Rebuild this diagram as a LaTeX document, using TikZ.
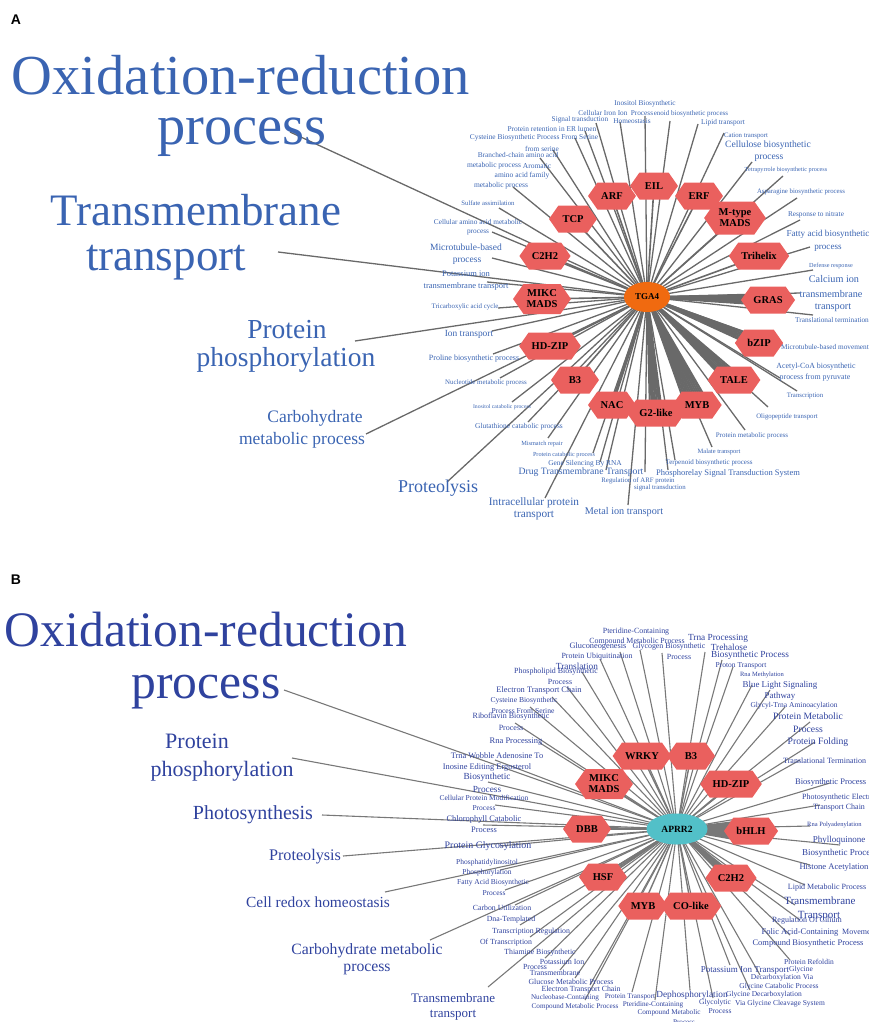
\documentclass[tikz,border=0pt]{standalone}
\usepackage{fontspec}
\setmainfont{Liberation Serif}
\newfontfamily\lsans{Liberation Sans}
\usetikzlibrary{shapes.symbols,shapes.geometric,calc}
\pgfdeclarelayer{bg}
\pgfsetlayers{bg,main}
\definecolor{blueA}{RGB}{58,100,178}
\definecolor{blueB}{RGB}{47,66,158}
\definecolor{edgec}{RGB}{105,105,105}
\definecolor{edgeb}{RGB}{120,120,120}
\definecolor{hexc}{RGB}{234,96,94}
\definecolor{orangeC}{RGB}{240,106,16}
\definecolor{cyanC}{RGB}{82,192,200}
\newcommand\TX[5][]{\node[lbl,#1] (#2) at (#3) {\fontsize{#4}{#4}\selectfont #5};}
\tikzset{
  lbl/.style={inner sep=0pt, text=blueA},
  edgeA/.style={draw=edgec, line width=1.3pt},
  edgeB/.style={draw=edgeb, line width=1.1pt},
  hexn/.style={signal, signal to=east and west, signal pointer angle=110, fill=hexc, draw=none,
    font=\bfseries\fontsize{10.5}{11}\selectfont, text=black, inner xsep=3pt, inner ysep=2pt,
    minimum height=27pt, minimum width=48pt, align=center},
  panel/.style={font=\lsans\bfseries\fontsize{14}{14}\selectfont, inner sep=0pt}
}
\begin{document}
\begin{tikzpicture}[x=1pt,y=-1pt]
\useasboundingbox (0,0) rectangle (869,1022);
\node[panel] (pA) at (16,20) {A};
\node[panel] (pB) at (16,580) {B};
% ================= PANEL A =================
\coordinate (A0) at (647,297);
% endpoints
\coordinate (ea1) at (290,132); \coordinate (ea2) at (278,252); \coordinate (ea3) at (355,341);
\coordinate (ea4) at (366,434); \coordinate (ea5) at (447,482); \coordinate (ea6) at (645,116);
\coordinate (ea7) at (620,122); \coordinate (ea8) at (670,121); \coordinate (ea9) at (698,124);
\coordinate (ea10) at (724,133); \coordinate (ea11) at (752,162); \coordinate (ea12) at (783,176);
\coordinate (ea13) at (797,198); \coordinate (ea14) at (800,220); \coordinate (ea15) at (810,247);
\coordinate (ea16) at (813,270); \coordinate (ea17) at (800,293); \coordinate (ea18) at (813,315);
\coordinate (ea19) at (782,345); \coordinate (ea20) at (780,378); \coordinate (ea21) at (797,391);
\coordinate (ea22) at (768,407); \coordinate (ea23) at (745,430); \coordinate (ea24) at (712,447);
\coordinate (ea25) at (675,460); \coordinate (ea26) at (668,470); \coordinate (ea27) at (645,472);
\coordinate (ea28) at (628,505); \coordinate (ea29) at (606,470); \coordinate (ea30) at (600,462);
\coordinate (ea31) at (593,453); \coordinate (ea32) at (548,438); \coordinate (ea33) at (545,498);
\coordinate (ea34) at (528,422); \coordinate (ea35) at (512,402); \coordinate (ea36) at (500,378);
\coordinate (ea37) at (493,354); \coordinate (ea38) at (492,331); \coordinate (ea39) at (498,308);
\coordinate (ea40) at (487,282); \coordinate (ea41) at (492,258); \coordinate (ea42) at (492,232);
\coordinate (ea43) at (499,208); \coordinate (ea44) at (513,187); \coordinate (ea45) at (540,158);
\coordinate (ea46) at (553,150); \coordinate (ea47) at (575,138); \coordinate (ea48) at (585,131);
\coordinate (ea49) at (596,123);
% big labels
\TX{ta1a}{241,75}{56.5}{Oxidation-reduction}
\TX{ta1b}{242,137}{56.5}{process}
\TX{ta2a}{196,210}{45}{Transmembrane}
\TX{ta2b}{166,263}{45}{transport}
\TX{ta3a}{287,330}{27.5}{Protein}
\TX{ta3b}{286,360}{27.5}{phosphorylation}
\TX{ta4a}{315,418}{17.5}{Carbohydrate}
\TX{ta4b}{302,440}{17.5}{metabolic process}
\TX{ta5}{438,488}{18}{Proteolysis}
% small labels
\TX{ta6a}{645,104}{7.3}{Inositol Biosynthetic}
\TX{ta6b}{642,113}{7.3}{Process}
\TX{ta7a}{603,113}{7.3}{Cellular Iron Ion}
\TX{ta7b}{632,121}{7.3}{Homeostasis}
\TX{ta8}{691,114}{7}{enoid biosynthetic process}
\TX{ta9}{723,123}{7.3}{Lipid transport}
\TX{ta10}{746,136}{6.8}{Cation transport}
\TX{ta11a}{768,145}{9.6}{Cellulose biosynthetic}
\TX{ta11b}{769,158}{9.6}{process}
\TX{ta12}{786,170}{6.2}{Tetrapyrrole biosynthetic process}
\TX{ta13}{801,192}{6.8}{Asparagine biosynthetic process}
\TX{ta14}{816,215}{7.3}{Response to nitrate}
\TX{ta15a}{828,234}{9.1}{Fatty acid biosynthetic}
\TX{ta15b}{828,248}{9.1}{process}
\TX{ta16}{831,266}{6.2}{Defense response}
\TX{ta17a}{834,279}{10.2}{Calcium ion}
\TX{ta17b}{831,294}{10.2}{transmembrane}
\TX{ta17c}{833,308}{10.2}{transport}
\TX{ta18}{832,320}{7.3}{Translational termination}
\TX{ta19}{825,347}{7.3}{Microtubule-based movement}
\TX{ta20a}{816,367}{7.9}{Acetyl-CoA biosynthetic}
\TX{ta20b}{815,378}{7.9}{process from pyruvate}
\TX{ta21}{805,396}{6.8}{Transcription}
\TX{ta22}{787,417}{6.8}{Oligopeptide transport}
\TX{ta23}{752,436}{7}{Protein metabolic process}
\TX{ta24}{719,452}{6.5}{Malate transport}
\TX{ta25}{709,463}{7}{Terpenoid biosynthetic process}
\TX{ta26}{728,473}{8.5}{Phosphorelay Signal Transduction System}
\TX{ta27a}{638,481}{6.8}{Regulation of ARF protein}
\TX{ta27b}{660,488}{6.8}{signal transduction}
\TX{ta28}{624,512}{10.2}{Metal ion transport}
\TX{ta29}{581,472}{9.7}{Drug Transmembrane Transport}
\TX{ta30}{585,464}{7.4}{Gene Silencing By RNA}
\TX{ta31}{564,455}{6.2}{Protein catabolic process}
\TX{ta32}{542,444}{6.3}{Mismatch repair}
\TX{ta33a}{534,503}{11.3}{Intracellular protein}
\TX{ta33b}{534,516}{11.3}{transport}
\TX{ta34}{519,427}{7.4}{Glutathione catabolic process}
\TX{ta35}{502,407}{5.7}{Inositol catabolic process}
\TX{ta36}{486,383}{6.9}{Nucleotide metabolic process}
\TX{ta37}{474,359}{8}{Proline biosynthetic process}
\TX{ta38}{469,334}{9.4}{Ion transport}
\TX{ta39}{465,307}{6.9}{Tricarboxylic acid cycle}
\TX{ta40a}{466,274}{8.5}{Potassium ion}
\TX{ta40b}{466,286}{8.5}{transmembrane transport}
\TX{ta41a}{466,247}{9.5}{Microtubule-based}
\TX{ta41b}{467,261}{9.5}{process}
\TX{ta42a}{478,222}{7.3}{Cellular amino acid metabolic}
\TX{ta42b}{478,233}{7.3}{process}
\TX{ta43}{488,203}{6.7}{Sulfate assimilation}
\TX{ta44a}{537,166}{7.5}{Aromatic}
\TX{ta44b}{522,176}{7.5}{amino acid family}
\TX{ta44c}{501,186}{7.5}{metabolic process}
\TX{ta45a}{518,155}{7.3}{Branched-chain amino acid}
\TX{ta45b}{494,166}{7.5}{metabolic process}
\TX{ta46}{542,149}{7.4}{from serine}
\TX{ta47}{534,138}{7.4}{Cysteine Biosynthetic Process From Serine}
\TX{ta48}{552,129}{7.4}{Protein retention in ER lumen}
\TX{ta49}{580,120}{7.3}{Signal transduction}
% hexagons A
\node[hexn] (aARF) at (612,196) {ARF};
\node[hexn] (aEIL) at (654,186) {EIL};
\node[hexn] (aERF) at (699,196) {ERF};
\node[hexn] (aTCP) at (573,219) {TCP};
\node[hexn, minimum height=33pt] (aMT) at (735,218) {M-type\\MADS};
\node[hexn] (aC2H2) at (545,256) {C2H2};
\node[hexn] (aTRI) at (759,256) {Trihelix};
\node[hexn, minimum height=30pt] (aMIKC) at (542,299) {MIKC\\MADS};
\node[hexn] (aGRAS) at (768,300) {GRAS};
\node[hexn] (aHDZIP) at (550,346) {HD-ZIP};
\node[hexn] (abZIP) at (759,343) {bZIP};
\node[hexn] (aB3) at (575,380) {B3};
\node[hexn] (aTALE) at (734,380) {TALE};
\node[hexn] (aNAC) at (612,405) {NAC};
\node[hexn] (aG2) at (656,413) {G2-like};
\node[hexn] (aMYB) at (697,405) {MYB};
\node[ellipse, fill=orangeC, minimum width=46pt, minimum height=30pt, inner sep=0pt,
  font=\bfseries\fontsize{9}{9}\selectfont] (tga) at (A0) {TGA4};
% ================= PANEL B =================
\begin{scope}[lbl/.append style={text=blueB}]
\coordinate (B0) at (677,829);
\coordinate (eb1) at (284,690); \coordinate (eb2) at (292,758); \coordinate (eb3) at (322,815);
\coordinate (eb4) at (343,856); \coordinate (eb5) at (385,892); \coordinate (eb6) at (430,940);
\coordinate (eb7) at (488,987); \coordinate (eb8) at (640,650); \coordinate (eb9) at (620,652);
\coordinate (eb10) at (662,653); \coordinate (eb11) at (705,652); \coordinate (eb12) at (722,660);
\coordinate (eb13) at (600,659); \coordinate (eb14) at (582,672); \coordinate (eb15) at (567,687);
\coordinate (eb16) at (552,697); \coordinate (eb17) at (530,707); \coordinate (eb18) at (515,723);
\coordinate (eb19) at (540,743); \coordinate (eb20) at (495,760); \coordinate (eb21) at (488,782);
\coordinate (eb22) at (495,805); \coordinate (eb23) at (483,825); \coordinate (eb24) at (500,846);
\coordinate (eb25) at (500,870); \coordinate (eb26) at (505,890); \coordinate (eb27) at (515,905);
\coordinate (eb28) at (520,925); \coordinate (eb29) at (530,937); \coordinate (eb30) at (545,958);
\coordinate (eb31) at (560,970); \coordinate (eb32) at (575,978); \coordinate (eb33) at (590,985);
\coordinate (eb34) at (585,1000); \coordinate (eb35) at (632,992); \coordinate (eb36) at (655,1000);
\coordinate (eb37) at (690,990); \coordinate (eb38) at (713,998); \coordinate (eb39) at (730,965);
\coordinate (eb40) at (760,975); \coordinate (eb41) at (750,990); \coordinate (eb42) at (790,960);
\coordinate (eb43) at (790,935); \coordinate (eb44) at (800,920); \coordinate (eb45) at (795,905);
\coordinate (eb46) at (805,885); \coordinate (eb47) at (810,865); \coordinate (eb48) at (840,845);
\coordinate (eb49) at (810,826); \coordinate (eb50) at (820,805); \coordinate (eb51) at (830,783);
\coordinate (eb52) at (800,760); \coordinate (eb53) at (815,742); \coordinate (eb54) at (810,722);
\coordinate (eb55) at (785,707); \coordinate (eb56) at (770,690); \coordinate (eb57) at (752,685);
\coordinate (eb58) at (733,667);
% big labels
\TX{tb1a}{206,630}{49.6}{Oxidation-reduction}
\TX{tb1b}{206,692}{49.6}{process}
\TX{tb2a}{197,741}{22}{Protein}
\TX{tb2b}{222,771}{22}{phosphorylation}
\TX{tb3}{253,815}{20}{Photosynthesis}
\TX{tb4}{305,857}{16.2}{Proteolysis}
\TX{tb5}{318,902}{15.4}{Cell redox homeostasis}
\TX{tb6a}{367,951}{15.7}{Carbohydrate metabolic}
\TX{tb6b}{367,969}{15.7}{process}
\TX{tb7a}{453,998}{13}{Transmembrane}
\TX{tb7b}{453,1015}{13}{transport}
% small labels
\TX{tb8a}{636,632}{7.9}{Pteridine-Containing}
\TX{tb8b}{637,642}{7.9}{Compound Metabolic Process}
\TX{tb9}{598,647}{8.3}{Gluconeogenesis}
\TX{tb10a}{669,647}{7.9}{Glycogen Biosynthetic}
\TX{tb10b}{679,657}{7.9}{Process}
\TX{tb11}{718,638}{9.3}{Trna Processing}
\TX{tb12a}{729,647}{9.3}{Trehalose}
\TX{tb12b}{750,655}{9.3}{Biosynthetic Process}
\TX{tb13}{597,657}{7.9}{Protein Ubiquitination}
\TX{tb14}{577,666}{9.3}{Translation}
\TX{tb15a}{556,672}{7.9}{Phospholipid Biosynthetic}
\TX{tb15b}{560,682}{7.9}{Process}
\TX{tb16}{539,690}{8.4}{Electron Transport Chain}
\TX{tb17a}{524,701}{7.6}{Cysteine Biosynthetic}
\TX{tb17b}{523,711}{7.6}{Process From Serine}
\TX{tb18a}{511,717}{8}{Riboflavin Biosynthetic}
\TX{tb18b}{511,728}{8}{Process}
\TX{tb19}{516,742}{8.5}{Rna Processing}
\TX{tb20}{497,756}{8.4}{Trna Wobble Adenosine To}
\TX{tb21a}{487,767}{8.4}{Inosine Editing Ergosterol}
\TX{tb21b}{487,777}{9.3}{Biosynthetic}
\TX{tb21c}{487,789}{9.3}{Process}
\TX{tb22a}{484,798}{7.5}{Cellular Protein Modification}
\TX{tb22b}{484,808}{7.5}{Process}
\TX{tb23a}{484,819}{8.4}{Chlorophyll Catabolic}
\TX{tb23b}{484,830}{8.4}{Process}
\TX{tb24}{488,846}{9.9}{Protein Glycosylation}
\TX{tb25a}{487,863}{7.5}{Phosphatidylinositol}
\TX{tb25b}{487,873}{7.5}{Phosphorylation}
\TX{tb26a}{493,883}{7.5}{Fatty Acid Biosynthetic}
\TX{tb26b}{494,893}{7.5}{Process}
\TX{tb27}{502,908}{7.8}{Carbon Utilization}
\TX{tb28}{511,920}{7.8}{Dna-Templated}
\TX{tb29a}{531,932}{7.8}{Transcription Regulation}
\TX{tb29b}{506,943}{7.8}{Of Transcription}
\TX{tb30a}{540,953}{7.8}{Thiamine Biosynthetic}
\TX{tb30b}{535,967}{7.8}{Process}
\TX{tb31a}{562,962}{7.8}{Potassium Ion}
\TX{tb31b}{555,973}{7.8}{Transmembrane}
\TX{tb32}{571,982}{7.8}{Glucose Metabolic Process}
\TX{tb33}{581,990}{7.8}{Electron Transport Chain}
\TX{tb34a}{565,998}{7.2}{Nucleobase-Containing}
\TX{tb34b}{575,1007}{7.2}{Compound Metabolic Process}
\TX{tb35}{630,997}{7.2}{Protein Transport}
\TX{tb36a}{653,1005}{7.2}{Pteridine-Containing}
\TX{tb36b}{669,1013}{7.2}{Compound Metabolic}
\TX{tb36c}{684,1022}{7.2}{Process}
\TX{tb37}{692,995}{9.3}{Dephosphorylation}
\TX{tb38a}{715,1003}{7.5}{Glycolytic}
\TX{tb38b}{720,1011}{7.5}{Process}
\TX{tb39}{745,970}{9}{Potassium Ion Transport}
\TX{tb40a}{801,970}{7.5}{Glycine}
\TX{tb40b}{782,978}{7.5}{Decarboxylation Via}
\TX{tb40c}{779,987}{7.5}{Glycine Catabolic Process}
\TX{tb41a}{764,995}{7.5}{Glycine Decarboxylation}
\TX{tb41b}{780,1004}{7.5}{Via Glycine Cleavage System}
\TX{tb42}{809,962}{7.5}{Protein Refoldin}
\TX{tb43a}{800,932}{8.5}{Folic Acid-Containing}
\TX{tb43b}{808,943}{8.5}{Compound Biosynthetic Process}
\TX{tb44a}{807,921}{8}{Regulation Of Cilium}
\TX[anchor=west]{tb44b}{842,932}{8}{Movement}
\TX{tb45a}{820,901}{11}{Transmembrane}
\TX{tb45b}{819,916}{11}{Transport}
\TX{tb46}{827,888}{8}{Lipid Metabolic Process}
\TX{tb47}{834,867}{8.6}{Histone Acetylation}
\TX{tb48a}{839,840}{9}{Phylloquinone}
\TX[anchor=west]{tb48b}{802,853}{9}{Biosynthetic Process}
\TX[anchor=west]{tb49}{807,825}{6.5}{Rna Polyadenylation}
\TX[anchor=west]{tb50a}{802,798}{8}{Photosynthetic Electron}
\TX{tb50b}{839,808}{8}{Transport Chain}
\TX[anchor=west]{tb51}{795,782}{8.5}{Biosynthetic Process}
\TX[anchor=west]{tb52}{783,761}{8}{Translational Termination}
\TX{tb53}{818,742}{9.7}{Protein Folding}
\TX{tb54a}{808,716}{9.7}{Protein Metabolic}
\TX{tb54b}{808,729}{9.7}{Process}
\TX{tb55}{794,706}{7.5}{Glycyl-Trna Aminoacylation}
\TX{tb56a}{780,685}{8.9}{Blue Light Signaling}
\TX{tb56b}{780,696}{8.9}{Pathway}
\TX{tb57}{762,675}{6.5}{Rna Methylation}
\TX{tb58}{741,666}{7.5}{Proton Transport}
\end{scope}
% hexagons B
\node[hexn] (bWRKY) at (642,756) {WRKY};
\node[hexn] (bB3) at (691,756) {B3};
\node[hexn, minimum height=30pt] (bMIKC) at (604,784) {MIKC\\MADS};
\node[hexn] (bHDZIP) at (731,784) {HD-ZIP};
\node[hexn] (bDBB) at (587,829) {DBB};
\node[hexn] (bbHLH) at (751,831) {bHLH};
\node[hexn] (bHSF) at (603,877) {HSF};
\node[hexn] (bC2H2) at (731,878) {C2H2};
\node[hexn] (bMYB) at (643,906) {MYB};
\node[hexn] (bCO) at (691,906) {CO-like};
\node[ellipse, fill=cyanC, minimum width=61pt, minimum height=31pt, inner sep=0pt,
  font=\bfseries\fontsize{9.5}{9.5}\selectfont] (aprr) at (B0) {APRR2};
% ================= EDGES =================
\begin{pgfonlayer}{bg}
\foreach \i in {1,...,49} \draw[edgeA] (A0) -- (ea\i);
\foreach \n in {aARF,aEIL,aERF,aTCP,aMT,aC2H2,aTRI,aMIKC,aHDZIP,aB3} \draw[edgeA, line width=1.6pt] (A0) -- (\n.center);
\draw[edgeA, line width=3pt] (A0) -- (aNAC.center);
\foreach \d in {-5,-3,...,5} \draw[edgeA, line width=2pt] (A0) -- ($(aGRAS.center)!\d pt!90:(A0)$);
\foreach \d in {-5,-3,...,5} \draw[edgeA, line width=2pt] (A0) -- ($(abZIP.center)!\d pt!90:(A0)$);
\foreach \d in {-7,-5,...,7} \draw[edgeA, line width=2pt] (A0) -- ($(aTALE.center)!\d pt!90:(A0)$);
\foreach \d in {-6,-4,...,6} \draw[edgeA, line width=2pt] (A0) -- ($(aG2.center)!\d pt!90:(A0)$);
\foreach \d in {-11,-9,...,11} \draw[edgeA, line width=2pt] (A0) -- ($(aMYB.center)!\d pt!90:(A0)$);
\foreach \i in {1,...,58} \draw[edgeB] (B0) -- (eb\i);
\foreach \n in {bWRKY,bB3,bMIKC,bHDZIP,bMYB,bCO} \draw[edgeB, line width=1.4pt] (B0) -- (\n.center);
\draw[edgeB, line width=2pt] (B0) -- (bDBB.center);
\foreach \d in {-2,0,2} \draw[edgeB, line width=1.6pt] (B0) -- ($(bHSF.center)!\d pt!90:(B0)$);
\foreach \d in {-4,-2,...,4} \draw[edgeB, line width=2pt] (B0) -- ($(bC2H2.center)!\d pt!90:(B0)$);
\foreach \d in {-11,-9,...,11} \draw[edgeB, line width=2pt] (B0) -- ($(bbHLH.center)!\d pt!90:(B0)$);
\end{pgfonlayer}
\end{tikzpicture}
\end{document}
